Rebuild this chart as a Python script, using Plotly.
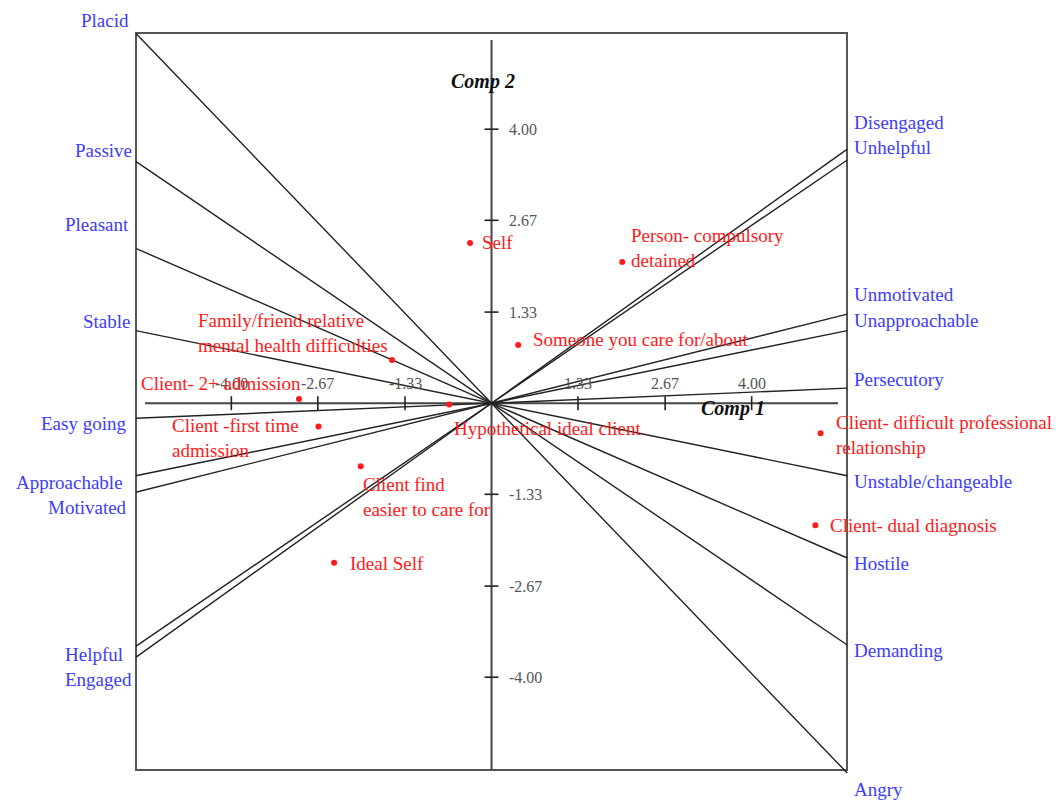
import plotly.graph_objects as go

# ---------------- data ----------------
# biplot axes: left pole, right pole, and the right-hand end point of each axis (Comp 1, Comp 2)
left_poles = ["Placid", "Passive", "Pleasant", "Stable", "Easy going",
              "Approachable", "Motivated", "Helpful", "Engaged"]
right_poles = ["Angry", "Demanding", "Hostile", "Unstable/changeable", "Persecutory",
               "Unapproachable", "Unmotivated", "Unhelpful", "Disengaged"]
axis_end_x = [5.47, 5.47, 5.47, 5.47, 5.47, 5.47, 5.47, 5.47, 5.47]
axis_end_y = [-5.40, -3.53, -2.26, -1.06, 0.22, 1.06, 1.30, 3.55, 3.71]

# elements (red points)
element_names = ["Self", "Person- compulsory<br>detained", "Someone you care for/about",
                 "Family/friend relative<br>mental health difficulties", "Client- 2+ admission",
                 "Hypothetical ideal client", "Client -first time<br>admission",
                 "Client find<br>easier to care for", "Ideal Self",
                 "Client- difficult professional<br>relationship", "Client- dual diagnosis"]
element_x = [-0.33, 2.01, 0.41, -1.53, -2.96, -0.65, -2.66, -2.01, -2.42, 5.06, 4.98]
element_y = [2.34, 2.06, 0.85, 0.63, 0.06, -0.02, -0.34, -0.92, -2.33, -0.44, -1.78]

tick_values = [-4.00, -2.67, -1.33, 1.33, 2.67, 4.00]
tick_labels = ["-4.00", "-2.67", "-1.33", "1.33", "2.67", "4.00"]

# ---------------- layout helpers ----------------
W, H = 1062, 800
X0, SX = 491.5, 65.04
Y0, SY = 403.2, 68.5
def px2x(p): return (p - X0) / SX
def py2y(p): return (Y0 - p) / SY

BOX_X = (px2x(136), px2x(847))
BOX_Y = (py2y(770), py2y(33))

BLUE = "#3c3cff"
RED = "#ff1a1a"
FONT = "Liberation Serif"
FS = 19

fig = go.Figure()

# box
fig.add_shape(type="rect", xref="x", yref="y", x0=BOX_X[0], x1=BOX_X[1], y0=BOX_Y[0], y1=BOX_Y[1],
              line=dict(color="#555555", width=2), layer="below")

# component axes
fig.add_trace(go.Scatter(x=[px2x(145), px2x(838)], y=[0, 0], mode="lines",
                         line=dict(color="#444444", width=2), hoverinfo="skip", showlegend=False))
fig.add_trace(go.Scatter(x=[0, 0], y=[py2y(40), BOX_Y[0]], mode="lines",
                         line=dict(color="#444444", width=2), hoverinfo="skip", showlegend=False))

# tick marks
tx, ty = [], []
hx, hy = 7 / SX, 7 / SY
for v in tick_values:
    tx += [v, v, None]
    ty += [-hy, hy, None]
    tx += [-hx, hx, None]
    ty += [v, v, None]
fig.add_trace(go.Scatter(x=tx, y=ty, mode="lines", line=dict(color="#222222", width=1.6),
                         hoverinfo="skip", showlegend=False))

# biplot construct lines
for ex, ey in zip(axis_end_x, axis_end_y):
    fig.add_trace(go.Scatter(x=[-ex, ex], y=[-ey, ey], mode="lines",
                             line=dict(color="#222222", width=1.4), hoverinfo="skip", showlegend=False))

# element points
fig.add_trace(go.Scatter(x=element_x, y=element_y, mode="markers",
                         marker=dict(color=RED, size=6), hoverinfo="text",
                         text=element_names, showlegend=False))

ann = []
def add_text(text, x, y, anchor, color, size=FS, bold_italic=False, align="left"):
    t = f"<b><i>{text}</i></b>" if bold_italic else text
    ann.append(dict(text=t, x=x, y=y, xref="x", yref="y", xanchor=anchor, yanchor="middle",
                    showarrow=False, align=align, borderpad=0,
                    font=dict(family=FONT, size=size, color=color)))

# tick labels
for v, lab in zip(tick_values, tick_labels):
    add_text(lab, v, py2y(383), "center", "#555555", size=16)
    add_text(lab, px2x(508), v, "left", "#555555", size=16)

# axis titles
add_text("Comp 1", px2x(733), py2y(408), "center", "#111111", size=20, bold_italic=True)
add_text("Comp 2", px2x(483), py2y(81), "center", "#111111", size=20, bold_italic=True)

# pole labels (positions in pixels: text edge x, centre y)
left_label_pos = [(130, 20), (133, 150), (130, 224), (132, 321), (127, 423),
                  (124, 482), (128, 507), (124, 654), (133, 679)]
right_label_pos = [(853, 789), (853, 650), (853, 563), (853, 481), (853, 379),
                   (853, 320), (853, 294), (853, 147), (853, 122)]
for name, (px, py) in zip(left_poles, left_label_pos):
    add_text(name, px2x(px), py2y(py), "right", BLUE, align="right")
for name, (px, py) in zip(right_poles, right_label_pos):
    add_text(name, px2x(px), py2y(py), "left", BLUE)

# element labels
element_label_pos = [(481, 242, "left"), (630, 248, "left"), (532, 339, "left"),
                     (197, 333, "left"), (302, 383, "right"), (453, 428, "left"),
                     (171, 438, "left"), (362, 497, "left"), (349, 563, "left"),
                     (835, 435, "left"), (829, 525, "left")]
for name, (px, py, anc) in zip(element_names, element_label_pos):
    add_text(name, px2x(px), py2y(py), anc, RED)

fig.update_layout(
    width=W, height=H, margin=dict(l=0, r=0, t=0, b=0, pad=0),
    paper_bgcolor="white", plot_bgcolor="white",
    xaxis=dict(range=[px2x(0), px2x(W)], visible=False, fixedrange=True),
    yaxis=dict(range=[py2y(H), py2y(0)], visible=False, fixedrange=True),
    annotations=ann, showlegend=False,
)

fig.write_html("out.html", config={"displayModeBar": False},
               post_script="document.body.style.margin='0px';")
